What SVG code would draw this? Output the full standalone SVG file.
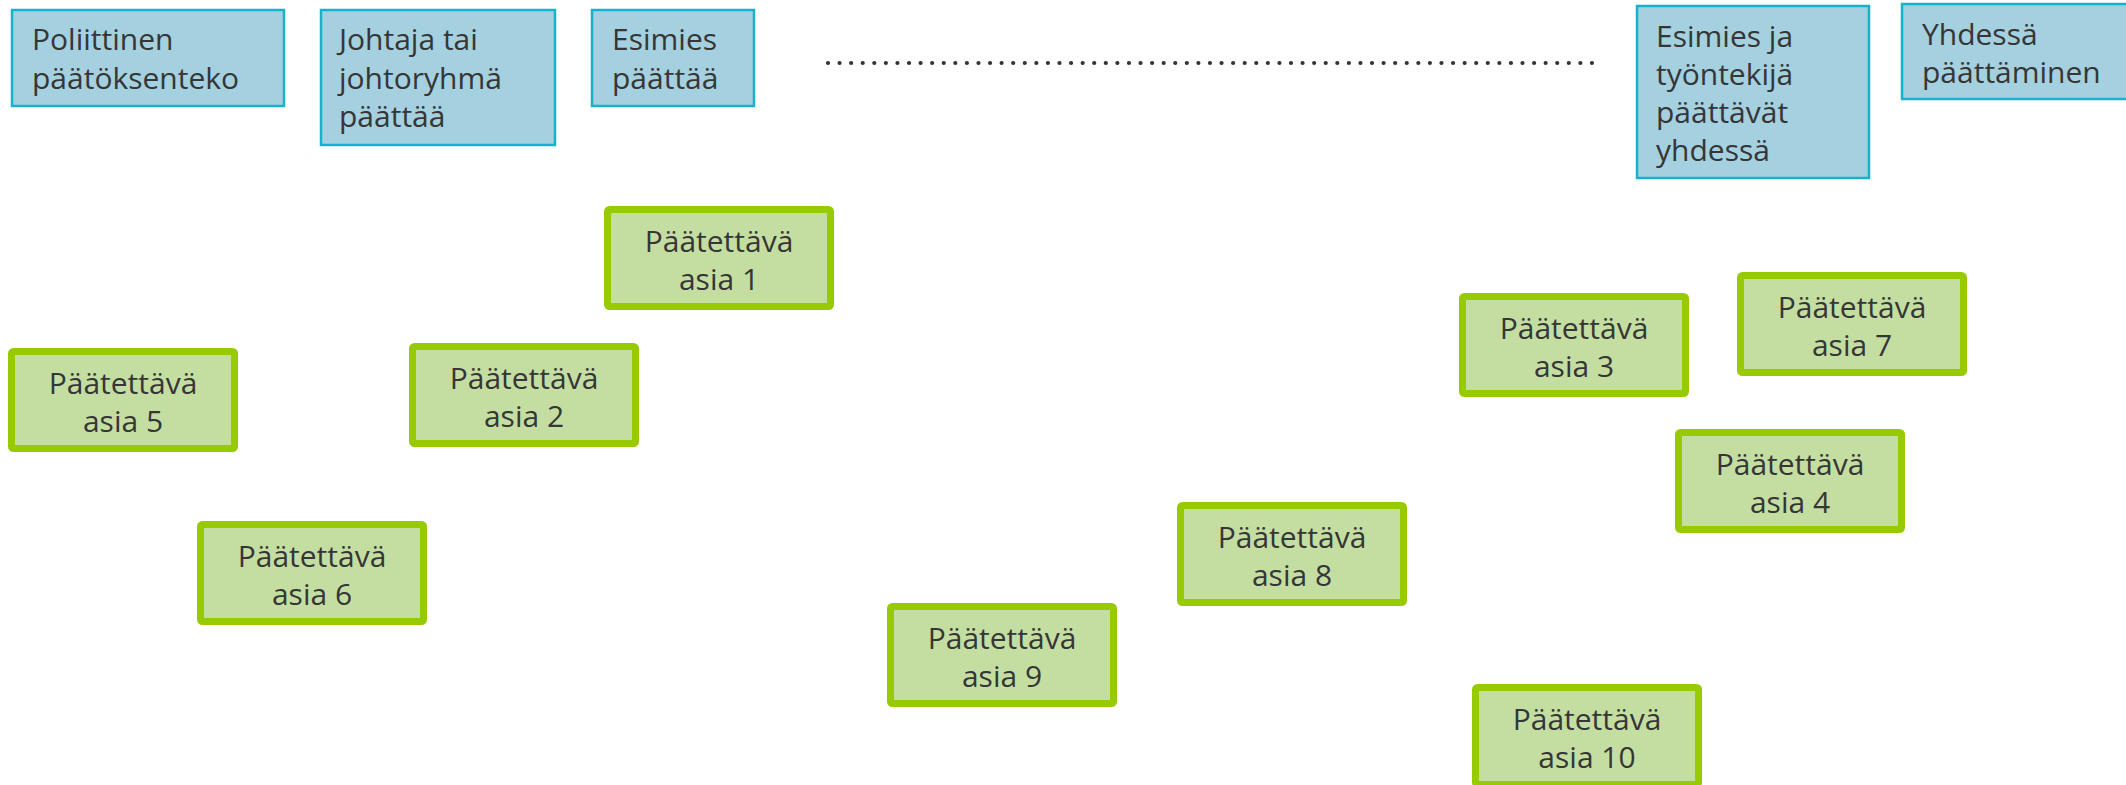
<svg xmlns="http://www.w3.org/2000/svg" width="2126" height="785" viewBox="0 0 2126 785">
<style>
.b{fill:#A4D0DF;stroke:#17B2C9;stroke-width:2.5}
.g{fill:#C4DEA2;stroke:#98CA00;stroke-width:7}
text{font-family:"Open Sans","Noto Sans","Liberation Sans",sans-serif;font-size:30px;fill:#363636}
.c{text-anchor:middle}
</style>
<rect width="2126" height="785" fill="#fff"/>
<g id="connectors">
<line x1="828" y1="63" x2="1592" y2="63" stroke="#333" stroke-width="4.2" stroke-linecap="round" stroke-dasharray="0 11.575"/>
</g>
<g id="n-poliittinen"><rect class="b" x="12" y="10" width="272" height="96"/><text x="32" y="50">Poliittinen</text><text x="32" y="89">päätöksenteko</text></g>
<g id="n-johtaja"><rect class="b" x="321" y="10" width="234" height="135"/><text x="339" y="50">Johtaja tai</text><text x="339" y="89">johtoryhmä</text><text x="339" y="127">päättää</text></g>
<g id="n-esimies"><rect class="b" x="592" y="10" width="162" height="96"/><text x="612" y="50">Esimies</text><text x="612" y="89">päättää</text></g>
<g id="n-esimiesja"><rect class="b" x="1637" y="6" width="232" height="172"/><text x="1656" y="47">Esimies ja</text><text x="1656" y="85">työntekijä</text><text x="1656" y="123">päättävät</text><text x="1656" y="161">yhdessä</text></g>
<g id="n-yhdessa"><rect class="b" x="1902" y="4" width="230" height="95"/><text x="1922" y="45">Yhdessä</text><text x="1922" y="83">päättäminen</text></g>
<g id="n-asia1"><rect class="g" x="607.500" y="209.500" width="223" height="97" rx="2"/><text class="c" x="719" y="252">Päätettävä</text><text class="c" x="719" y="290">asia 1</text></g>
<g id="n-asia2"><rect class="g" x="412.500" y="346.500" width="223" height="97" rx="2"/><text class="c" x="524" y="389">Päätettävä</text><text class="c" x="524" y="427">asia 2</text></g>
<g id="n-asia3"><rect class="g" x="1462.500" y="296.500" width="223" height="97" rx="2"/><text class="c" x="1574" y="339">Päätettävä</text><text class="c" x="1574" y="377">asia 3</text></g>
<g id="n-asia4"><rect class="g" x="1678.500" y="432.500" width="223" height="97" rx="2"/><text class="c" x="1790" y="475">Päätettävä</text><text class="c" x="1790" y="513">asia 4</text></g>
<g id="n-asia5"><rect class="g" x="11.500" y="351.500" width="223" height="97" rx="2"/><text class="c" x="123" y="394">Päätettävä</text><text class="c" x="123" y="432">asia 5</text></g>
<g id="n-asia6"><rect class="g" x="200.500" y="524.500" width="223" height="97" rx="2"/><text class="c" x="312" y="567">Päätettävä</text><text class="c" x="312" y="605">asia 6</text></g>
<g id="n-asia7"><rect class="g" x="1740.500" y="275.500" width="223" height="97" rx="2"/><text class="c" x="1852" y="318">Päätettävä</text><text class="c" x="1852" y="356">asia 7</text></g>
<g id="n-asia8"><rect class="g" x="1180.500" y="505.500" width="223" height="97" rx="2"/><text class="c" x="1292" y="548">Päätettävä</text><text class="c" x="1292" y="586">asia 8</text></g>
<g id="n-asia9"><rect class="g" x="890.500" y="606.500" width="223" height="97" rx="2"/><text class="c" x="1002" y="649">Päätettävä</text><text class="c" x="1002" y="687">asia 9</text></g>
<g id="n-asia10"><rect class="g" x="1475.500" y="687.500" width="223" height="97" rx="2"/><text class="c" x="1587" y="730">Päätettävä</text><text class="c" x="1587" y="768">asia 10</text></g>
</svg>
